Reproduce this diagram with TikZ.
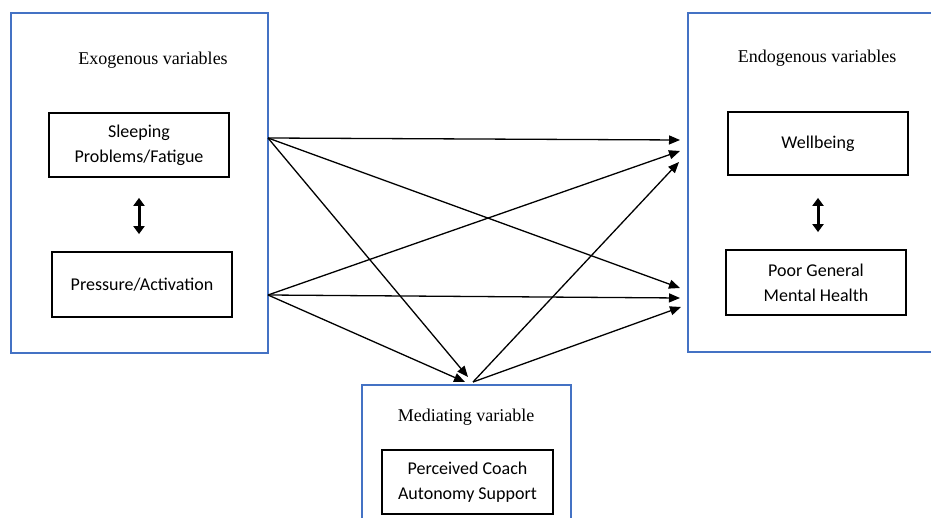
\documentclass[tikz,border=0pt]{standalone}
\usepackage{fontspec}
\setmainfont{Liberation Serif}
\newfontfamily\boxfont{Carlito}
\usetikzlibrary{arrows.meta}
\definecolor{frameblue}{RGB}{68,114,196}

\begin{document}
\begin{tikzpicture}[x=1pt,y=-1pt,
	group/.style={draw=frameblue,line width=1.2pt,inner sep=0pt},
	var/.style={draw=black,line width=1.8pt,align=center,inner sep=0pt,font=\boxfont\fontsize{18}{25}\selectfont},
	heading/.style={font=\fontsize{18}{22}\selectfont},
	effect/.style={-{Triangle[length=11pt,width=9pt]},line width=1.3pt},
	corr/.style={{Triangle[length=8pt,width=11pt]}-{Triangle[length=8pt,width=11pt]},line width=3pt}]

	\useasboundingbox (0,0) rectangle (931,518);

	% the three groups
	\node[group,minimum width=257pt,minimum height=340pt] (exo) at (139.5,183) {};
	\node[group,minimum width=257pt,minimum height=339pt] (endo) at (816.5,182.5) {};
	\node[group,minimum width=209pt,minimum height=170pt] (med) at (466.5,470) {};

	\node[heading] (exot) at (153,60) {Exogenous variables};
	\node[heading] (endot) at (817,58) {Endogenous variables};
	\node[heading] (medt) at (466,417) {Mediating variable};

	% variables
	\node[var,minimum width=180pt,minimum height=64pt] (sleep) at (139,145) {Sleeping\\Problems/Fatigue};
	\node[var,minimum width=180pt,minimum height=65pt] (press) at (142,284.5) {Pressure/Activation};
	\node[var,minimum width=180pt,minimum height=63pt] (well) at (818,143.5) {Wellbeing};
	\node[var,minimum width=180pt,minimum height=65pt] (mhealth) at (816,282.5) {Poor General\\Mental Health};
	\node[var,minimum width=171pt,minimum height=64pt] (coach) at (467.5,482) {Perceived Coach\\Autonomy Support};

	% ends of the paths
	\coordinate (sA) at (268,138);
	\coordinate (sB) at (268,295);
	\coordinate (mA) at (473,382);
	\coordinate (mB) at (468,377);
	\coordinate (mC) at (465,382);
	\coordinate (wA) at (680,140);
	\coordinate (wB) at (680,151);
	\coordinate (wC) at (679,162);
	\coordinate (hA) at (680,288);
	\coordinate (hB) at (680,298);
	\coordinate (hC) at (681,307);

	\path[corr] (sleep.south) edge [shorten <=20pt, shorten >=17pt] (sleep.south |- press.north);
	\path[corr] (well.south) edge [shorten <=22pt, shorten >=17pt] (well.south |- mhealth.north);

	\path[effect] (sA) edge (wA);
	\path[effect] (sA) edge (hA);
	\path[effect] (sA) edge (mB);
	\path[effect] (sB) edge (wB);
	\path[effect] (sB) edge (hB);
	\path[effect] (sB) edge (mC);
	\path[effect] (mA) edge (wC);
	\path[effect] (mA) edge (hC);

\end{tikzpicture}
\end{document}
